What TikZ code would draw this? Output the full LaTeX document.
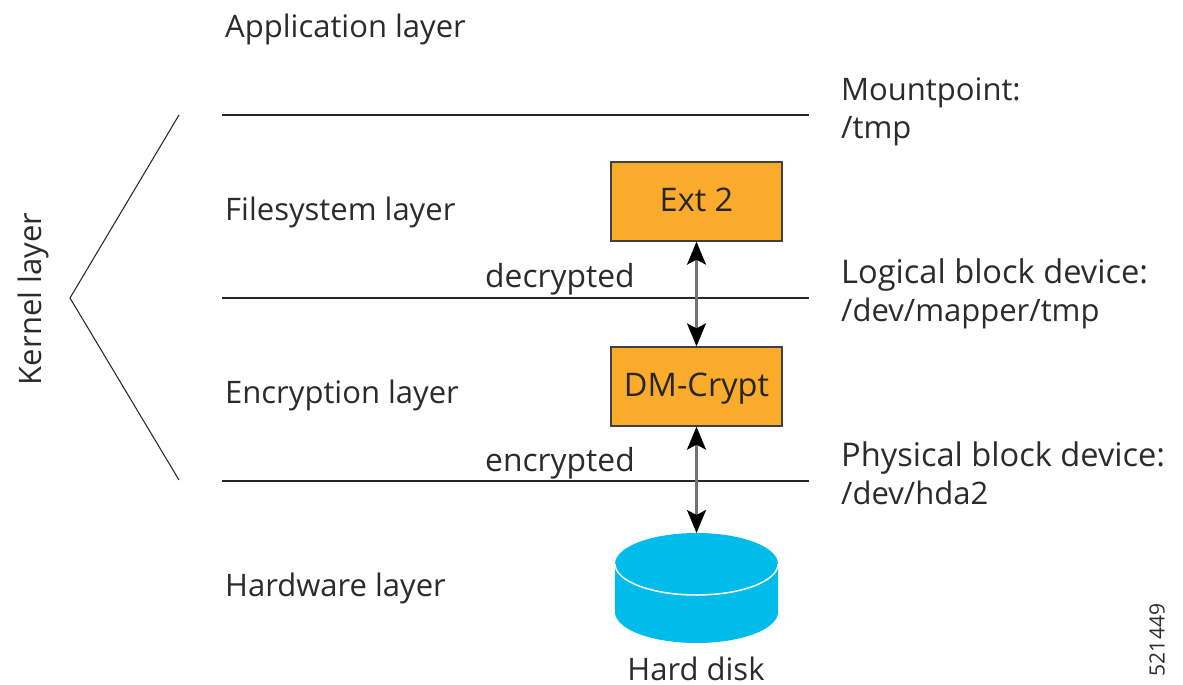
\documentclass[tikz,border=0pt]{standalone}
\usepackage{fontspec}
\setmainfont{Open Sans}
\usetikzlibrary{arrows.meta}
\definecolor{boxorange}{HTML}{FBAB2C}
\definecolor{diskblue}{HTML}{00BCEB}
\definecolor{inkc}{HTML}{2B2B2B}
\tikzset{
  lbl/.style={anchor=west,inner sep=0pt,text=inkc,font=\fontsize{31}{38}\selectfont,align=left},
  rule/.style={draw=black!85,line width=1.05pt},
  layerbox/.style={draw=black!75,line width=1.3pt,fill=boxorange,minimum width=171pt,minimum height=79pt,inner sep=0pt,text height=20pt,text depth=0pt,text=black!85,font=\fontsize{32.5}{38}\selectfont},
  link/.style={draw=black!55,line width=2.4pt,{Stealth[length=23pt,width=19pt,inset=5pt,black]}-{Stealth[length=23pt,width=19pt,inset=5pt,black]}}
}
\newcommand{\widerline}[1]{{\fontsize{32.6}{38}\selectfont #1}}
\begin{document}
\begin{tikzpicture}[x=1pt,y=-1pt]
\useasboundingbox (0,0) rectangle (1183,685);
% rules
\coordinate (r1a) at (222,115); \coordinate (r1b) at (809,115);
\coordinate (r2a) at (222,298); \coordinate (r2b) at (809,298);
\coordinate (r3a) at (222,481); \coordinate (r3b) at (809,481);
\draw[rule] (r1a)--(r1b);
\draw[rule] (r2a)--(r2b);
\draw[rule] (r3a)--(r3b);
% kernel bracket
\coordinate (k1) at (179,115); \coordinate (k2) at (70,298); \coordinate (k3) at (179,480);
\draw[rule] (k1)--(k2)--(k3);
\node[lbl,anchor=center,rotate=90] (kernel) at (33,299) {Kernel layer};
% layers
\node[lbl] (app) at (225,29) {Application layer};
\node[lbl] (fs) at (225,212) {Filesystem layer};
\node[lbl] (enc) at (225,395) {Encryption layer};
\node[lbl] (hw) at (225,588) {Hardware layer};
\node[lbl,font=\fontsize{31.8}{38}\selectfont] (dec) at (485,279) {decrypted};
\node[lbl,font=\fontsize{31.8}{38}\selectfont] (encd) at (485,463) {encrypted};
% right labels
\node[lbl] (mp) at (841,112) {Mountpoint:\\/tmp};
\node[lbl] (lb) at (841,293.5) {\widerline{Logical block device:}\\/dev/mapper/tmp};
\node[lbl] (pb) at (841,473.5) {\widerline{Physical block device:}\\/dev/hda2};
% boxes
\node[layerbox] (ext) at (696.5,201.5) {Ext 2};
\node[layerbox] (dm) at (696.5,386.5) {DM-Crypt};
% disk
\fill[diskblue] (615,564) -- (615,612) arc[start angle=180,end angle=360,x radius=81.5pt,y radius=31pt] -- (778,564) arc[start angle=0,end angle=180,x radius=81.5pt,y radius=31pt] -- cycle;
\draw[white,line width=1.5pt] (615,564) arc[start angle=180,end angle=360,x radius=81.5pt,y radius=31pt];
\coordinate (disktop) at (696.5,533);
\node[inner sep=0pt,anchor=base,text=inkc,font=\fontsize{31}{34}\selectfont] (hd) at (696,680.5) {Hard disk};
% connectors
\draw[link] (ext.south) -- (dm.north);
\draw[link] (dm.south) -- (disktop);
\node[anchor=center,rotate=90,inner sep=0pt,text=inkc,font=\fontsize{21}{24}\selectfont] (num) at (1157,640) {521449};
\end{tikzpicture}
\end{document}
